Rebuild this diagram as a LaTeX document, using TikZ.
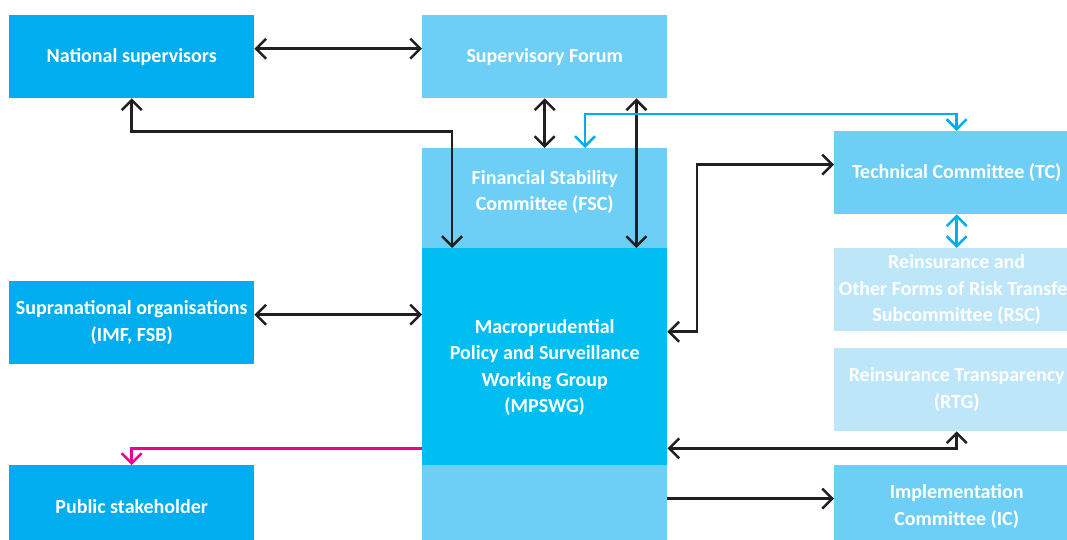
\documentclass[tikz,border=0pt]{standalone}
\usepackage{fontspec}
\setmainfont{Carlito}
\usepackage{tikz}
\usetikzlibrary{arrows.meta, positioning}
\definecolor{nationalcolor}{RGB}{0,173,239}
\definecolor{committeecolor}{RGB}{109,207,246}
\definecolor{groupcolor}{RGB}{0,189,242}
\definecolor{subgroupcolor}{RGB}{189,230,249}
\definecolor{linkcolor}{RGB}{35,31,32}
\definecolor{bluelinkcolor}{RGB}{0,174,239}
\definecolor{pinklinkcolor}{RGB}{236,0,140}

\begin{document}
\begin{tikzpicture}[x=1pt, y=-1pt,
        boxtext/.style={text=white, align=center, inner sep=0pt, font=\bfseries\fontsize{20}{26.5}\selectfont},
        body/.style={boxtext, anchor=north west, minimum width=245pt, minimum height=83pt},
        link/.style={draw=linkcolor, line width=2.5pt, {Straight Barb[length=10pt,width=20pt]}-{Straight Barb[length=10pt,width=20pt]}},
        bluelink/.style={link, draw=bluelinkcolor},
        onelink/.style={draw=linkcolor, line width=2.5pt, -{Straight Barb[length=10pt,width=20pt]}},
        pinklink/.style={onelink, draw=pinklinkcolor}]
        \useasboundingbox (0,0) rectangle (1067,540);
        \clip (0,0) rectangle (1067,540);

        % Left column
        \node[body, fill=nationalcolor] (ns) at (9,15) {National supervisors};
        \node[body, fill=nationalcolor] (supra) at (9,281) {Supranational organisations\\(IMF, FSB)};
        \node[body, fill=nationalcolor] (ps) at (9,465) {Public stakeholder};

        % Centre column
        \node[body, fill=committeecolor] (sf) at (422,15) {Supervisory Forum};
        \node[body, fill=committeecolor, minimum height=100pt] (fsc) at (422,148) {};
        \node[boxtext] (fsclabel) at ([yshift=6pt]fsc.center) {Financial Stability\\Committee (FSC)};
        \node[body, fill=groupcolor, minimum height=217pt] (mpswg) at (422,248) {};
        \node[boxtext] (mpswglabel) at ([yshift=-11pt]mpswg.center) {Macroprudential\\Policy and Surveillance\\Working Group\\(MPSWG)};
        \node[body, fill=committeecolor] (low) at (422,465) {};

        % Right column
        \node[body, fill=committeecolor] (tc) at (834,131) {Technical Committee (TC)};
        \node[body, fill=subgroupcolor] (rsc) at (834,248) {Reinsurance and\\Other Forms of Risk Transfer\\Subcommittee (RSC)};
        \node[body, fill=subgroupcolor] (rtg) at (834,348) {Reinsurance Transparency\\(RTG)};
        \node[body, fill=committeecolor] (ic) at (834,465) {Implementation\\Committee (IC)};

        % Connectors
        \draw[link] ([yshift=8pt]ns.east) -- ([yshift=8pt]sf.west);
        \draw[link] (ns.south) -- ++(0,33) -| ([xshift=30pt]mpswg.north west);
        \draw[link] (sf.south) -- (fsc.north);
        \draw[link] ([xshift=-31pt]sf.south east) -- ([xshift=-31pt]mpswg.north east);
        \draw[bluelink] ([xshift=163pt]fsc.north west) -- ++(0,-34) -| (tc.north);
        \draw[link] ([yshift=8pt]tc.west) -- ++(-137,0) |- ([yshift=25pt]mpswg.east);
        \draw[bluelink] (tc.south) -- (rsc.north);
        \draw[link] ([yshift=8pt]supra.east) -- ([yshift=8pt]supra.east -| mpswg.west);
        \draw[link] (rtg.south) |- ([yshift=17pt]mpswg.south east);
        \draw[onelink] ([yshift=8pt]low.east) -- ([yshift=8pt]ic.west);
        \draw[pinklink] ([yshift=17pt]mpswg.south west) -| (ps.north);
\end{tikzpicture}
\end{document}
